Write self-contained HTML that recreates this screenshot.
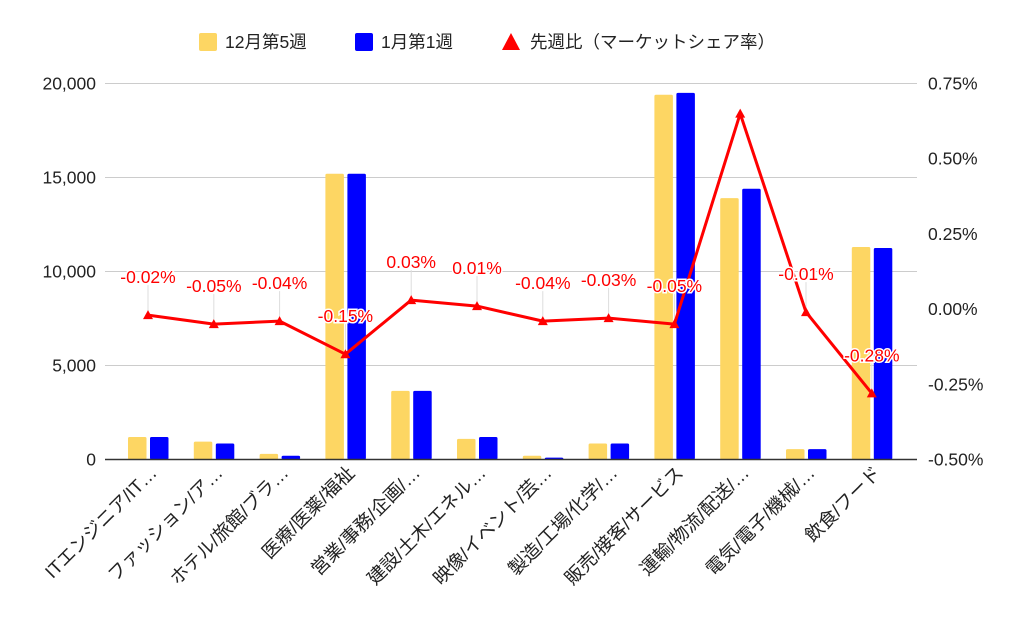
<!DOCTYPE html>
<html><head><meta charset="utf-8"><style>
body{margin:0;background:#fff;}
svg text{font-family:"Liberation Sans","Noto Sans CJK JP",sans-serif;}
</style></head><body>
<svg id="chart" width="1024" height="633" xmlns="http://www.w3.org/2000/svg"></svg>
<script>
const categories=["ITエンジニア/IT…","ファッション/ア…","ホテル/旅館/ブラ…","医療/医薬/福祉","営業/事務/企画/…","建設/土木/エネル…","映像/イベント/芸…","製造/工場/化学/…","販売/接客/サービス","運輸/物流/配送/…","電気/電子/機械/…","飲食/フード"];
const week52=[1200,950,300,15200,3650,1100,200,850,19400,13900,550,11300];
const week1=[1200,850,200,15200,3650,1200,100,850,19500,14400,550,11250];
const share=[-0.02,-0.05,-0.04,-0.15,0.03,0.01,-0.04,-0.03,-0.05,0.65,-0.01,-0.28];
const shareLabels=["-0.02%","-0.05%","-0.04%","-0.15%","0.03%","0.01%","-0.04%","-0.03%","-0.05%","","-0.01%","-0.28%"];
const leftTicks=[0,5000,10000,15000,20000];
const leftTickLabels=["0","5,000","10,000","15,000","20,000"];
const rightTicks=[-0.5,-0.25,0,0.25,0.5,0.75];
const rightTickLabels=["-0.50%","-0.25%","0.00%","0.25%","0.50%","0.75%"];

const NS="http://www.w3.org/2000/svg";
const svg=document.getElementById('chart');
function mk(tag,attrs,parent){const e=document.createElementNS(NS,tag);for(const k in attrs)e.setAttribute(k,attrs[k]);(parent||svg).appendChild(e);return e;}
const X0=105,X1=917,Y0=459.5,Y1=83.5;
const yL=v=>Y0-(v/20000)*(Y0-Y1);
const yR=v=>Y0-((v+0.5)/1.25)*(Y0-Y1);
const xC=i=>148+i*65.8;

leftTicks.forEach((t,i)=>{
  if(t!==0){const g=mk('line',{x1:X0,x2:X1,y1:yL(t),y2:yL(t),stroke:'#ccc','stroke-width':1});
  
  }
  const tx=mk('text',{x:96,y:yL(t)+6,'text-anchor':'end','font-size':17.5,fill:'#222'});
  tx.textContent=leftTickLabels[i];
  
  
});
rightTicks.forEach((t,i)=>{
  const tx=mk('text',{x:928,y:yR(t)+6,'text-anchor':'start','font-size':17.5,fill:'#222'});
  tx.textContent=rightTickLabels[i];
  
  
});
categories.forEach((c,i)=>{
  const cx=xC(i);
  const a=mk('rect',{x:cx-20,y:yL(week52[i]),width:18.5,height:Y0-yL(week52[i]),fill:'#fdd663',rx:1.5});
  
  
  const b=mk('rect',{x:cx+2,y:yL(week1[i]),width:18.5,height:Y0-yL(week1[i]),fill:'#0000ff',rx:1.5});
  
  
  const tx=mk('text',{x:0,y:0,'text-anchor':'end','font-size':18.5,fill:'#222',transform:`translate(${cx+10},${474}) rotate(-45)`});
  tx.textContent=c;
  
  
});
const ax=mk('line',{x1:X0,x2:X1,y1:Y0,y2:Y0,stroke:'#333','stroke-width':1.5});


share.forEach((v,i)=>{
  if(!shareLabels[i])return;
  const l=mk('line',{x1:xC(i),x2:xC(i),y1:yR(v)-30,y2:yR(v)-4,stroke:'#ddd','stroke-width':1});
  
  
});
const pts=share.map((v,i)=>xC(i)+','+yR(v)).join(' ');
const pl=mk('polyline',{points:pts,fill:'none',stroke:'#ff0000','stroke-width':3,'stroke-linejoin':'round'});


share.forEach((v,i)=>{
  const x=xC(i),y=yR(v);
  const t=mk('polygon',{points:`${x},${y-5} ${x-5},${y+4} ${x+5},${y+4}`,fill:'#ff0000'});
  
  
  if(shareLabels[i]){
    const tx=mk('text',{x:x,y:y-32,'text-anchor':'middle','font-size':17.5,fill:'#ff0000',stroke:'#fff','stroke-width':3,'paint-order':'stroke'});
    tx.textContent=shareLabels[i];
    
    
  }
});
const lg=mk('g',{});


const l1=mk('rect',{x:199,y:33,width:18,height:18,fill:'#fdd663',rx:2},lg);


const t1=mk('text',{x:225,y:48,'font-size':17.5,fill:'#222'},lg);t1.textContent='12月第5週';


const l2=mk('rect',{x:355,y:33,width:18,height:18,fill:'#0000ff',rx:2},lg);


const t2=mk('text',{x:381,y:48,'font-size':17.5,fill:'#222'},lg);t2.textContent='1月第1週';


const l3=mk('polygon',{points:'511,33 502,50 520,50',fill:'#ff0000'},lg);


const t3=mk('text',{x:530,y:48,'font-size':17.5,fill:'#222'},lg);t3.textContent='先週比（マーケットシェア率）';


</script>
</body></html>
